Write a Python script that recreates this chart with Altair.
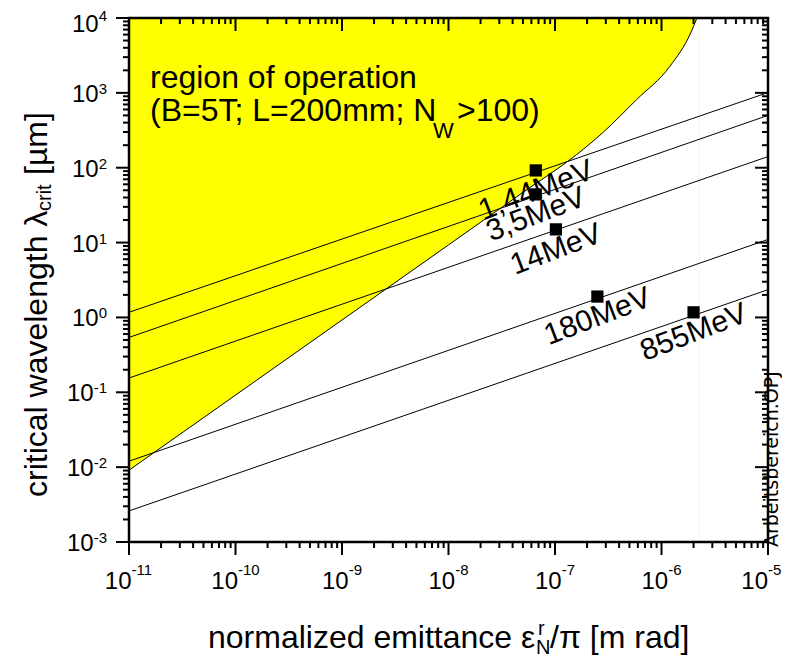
import altair as alt
import pandas as pd

W, H = 639, 524
FONT = "Liberation Sans"

# ---- data ----
energy_names = ["1,44MeV", "3,5MeV", "14MeV", "180MeV", "855MeV"]
line_x = [1e-11, 1e-5]
line_y_left = [1.17, 0.54, 0.155, 0.012, 0.0026]
line_y_right = [1010, 500, 141, 11, 2.35]

point_x = [6.6e-8, 6.6e-8, 1.02e-7, 2.5e-7, 2.0e-6]
point_y = [92, 44, 15, 1.9, 1.17]

bound_x = [1e-11, 1e-8, 5.0e-8, 1.6e-7, 2.84e-7, 5.85e-7, 1.2e-6, 1.88e-6, 2.15e-6]
bound_y = [0.0091, 9.3, 46.8, 150, 298, 815, 2265, 6320, 1e4]
edge_x = [2.25e-6]

x_exps = [-11, -10, -9, -8, -7, -6, -5]
y_exps = [-3, -2, -1, 0, 1, 2, 3, 4]

# ---- scales ----
xs = alt.Scale(type="log", domain=[1e-11, 1e-5], nice=False)
ys = alt.Scale(type="log", domain=[1e-3, 1e4], nice=False)


def X(f):
    return alt.X(f, type="quantitative", scale=xs, axis=None)


def Y(f):
    return alt.Y(f, type="quantitative", scale=ys, axis=None)


layers = []

# region of operation (yellow)
df_b = pd.DataFrame({"x": bound_x, "y": bound_y, "top": [1e4] * len(bound_x)})
layers.append(
    alt.Chart(df_b).mark_area(color="#ffff00", opacity=1, interpolate="monotone", orient="vertical", clip=True)
    .encode(x=X("x"), y=Y("y"), y2=alt.Y2("top"))
)
layers.append(
    alt.Chart(df_b).mark_line(color="black", strokeWidth=1, interpolate="monotone", clip=True)
    .encode(x=X("x"), y=Y("y"))
)
# faint vertical edge line
layers.append(
    alt.Chart(pd.DataFrame({"v": edge_x})).mark_rule(color="#f6f6e2", strokeWidth=1)
    .encode(x=X("v"), y=alt.value(0), y2=alt.value(H))
)

# energy lines
rows = []
for n, l, r in zip(energy_names, line_y_left, line_y_right):
    rows.append({"name": n, "x": line_x[0], "y": l})
    rows.append({"name": n, "x": line_x[1], "y": r})
df_l = pd.DataFrame(rows)
layers.append(
    alt.Chart(df_l).mark_line(color="black", strokeWidth=1, clip=True)
    .encode(x=X("x"), y=Y("y"), detail="name:N")
)

# operating points + labels
df_p = pd.DataFrame({"name": energy_names, "x": point_x, "y": point_y})
layers.append(
    alt.Chart(df_p).mark_square(size=150, color="black", opacity=1)
    .encode(x=X("x"), y=Y("y"))
)
layers.append(
    alt.Chart(df_p).mark_text(angle=339, dx=-7, dy=19, fontSize=30, align="center", baseline="middle", color="black")
    .encode(x=X("x"), y=Y("y"), text="name:N")
)

# ---- ticks ----
x_major = [10.0 ** e for e in x_exps]
x_minor = [m * 10.0 ** e for e in x_exps[:-1] for m in range(2, 10)]
y_major = [10.0 ** e for e in y_exps]
y_minor = [m * 10.0 ** e for e in y_exps[:-1] for m in range(2, 10)]


def rules_x(vals, y1, y2):
    return alt.Chart(pd.DataFrame({"v": vals})).mark_rule(color="black", strokeWidth=2).encode(
        x=X("v"), y=alt.value(y1), y2=alt.value(y2))


def rules_y(vals, x1, x2):
    return alt.Chart(pd.DataFrame({"v": vals})).mark_rule(color="black", strokeWidth=2).encode(
        y=Y("v"), x=alt.value(x1), x2=alt.value(x2))


layers += [
    rules_x(x_major, H, H + 13), rules_x(x_minor, H, H + 6),
    rules_x(x_major, 0, 13), rules_x(x_minor, 0, 6),
    rules_y(y_major, -13, 0), rules_y(y_minor, -6, 0),
    rules_y(y_major, W - 13, W), rules_y(y_minor, W - 6, W),
]


# ---- tick labels ----
def xlabels(exps, shift):
    df = pd.DataFrame({"v": [10.0 ** e for e in exps], "s": [str(e) for e in exps]})
    base = alt.Chart(df)
    ten = base.mark_text(text="10", align="right", baseline="alphabetic", fontSize=24, dx=shift, color="black").encode(
        x=X("v"), y=alt.value(H + 47))
    sup = base.mark_text(align="left", baseline="alphabetic", fontSize=15, dx=shift, color="black").encode(
        x=X("v"), y=alt.value(H + 33), text="s:N")
    return [ten, sup]


def ylabels(exps, supw, ten_dy=9, sup_dy=1):
    df = pd.DataFrame({"v": [10.0 ** e for e in exps], "s": [str(e) for e in exps]})
    base = alt.Chart(df)
    ten = base.mark_text(text="10", align="right", baseline="alphabetic", fontSize=24, dx=-22 - supw, dy=ten_dy,
                         color="black").encode(y=Y("v"), x=alt.value(0))
    sup = base.mark_text(align="right", baseline="alphabetic", fontSize=15, dx=-22, dy=sup_dy, color="black").encode(
        y=Y("v"), x=alt.value(0), text="s:N")
    return [ten, sup]


layers += xlabels([e for e in x_exps if e <= -10], 2.5)
layers += xlabels([e for e in x_exps if -10 < e < -5], 6.7)
layers += xlabels([e for e in x_exps if e == -5], 0)
layers += ylabels([e for e in y_exps if 0 <= e < 4], 8.3)
layers += ylabels([e for e in y_exps if e == 4], 8.3, ten_dy=14, sup_dy=3)
layers += ylabels([e for e in y_exps if e < 0], 13.3)


# ---- annotations / titles ----
def ann(txt, x, y, size, angle=0, align="left", font=FONT):
    return alt.Chart(pd.DataFrame({"t": [txt]})).mark_text(
        align=align, baseline="alphabetic", fontSize=size, angle=angle, color="black", font=font
    ).encode(x=alt.value(x), y=alt.value(y), text="t:N")


# y title
layers += [
    ann("critical wavelength λ", -82, 479, 32, angle=270),
    ann("crit", -78, 193, 20, angle=270),
    ann("[µm]", -82, 157, 32, angle=270),
]
# x title
layers += [
    ann("normalized emittance ε", 79, 630, 32),
    ann("N", 407, 636, 20),
    ann("r", 409, 617, 20),
    ann("/π [m rad]", 421, 630, 32),
]
# region text
layers += [
    ann("region of operation", 21, 70, 32),
    ann("(B=5T; L=200mm; N", 21, 103, 32),
    ann("W", 304, 120, 22),
    ann(">100)", 328, 103, 32),
]
# file name
layers.append(ann("Arbeitsbereich.OPJ", 649, 529, 19, angle=270, font="DejaVu Sans"))

# frame on top
layers.append(
    alt.Chart(pd.DataFrame({"a": [0]})).mark_rect(filled=False, stroke="black", strokeWidth=2.5).encode(
        x=alt.value(0), x2=alt.value(W), y=alt.value(0), y2=alt.value(H))
)

chart = (
    alt.layer(*layers)
    .properties(
        width=W,
        height=H,
        autosize=alt.AutoSizeParams(type="none"),
        padding={"left": 121, "top": 10, "right": 14, "bottom": 117},
    )
    .configure_view(stroke=None)
    .configure_text(font=FONT)
)

chart.save("out.html", embed_options={"renderer": "svg", "actions": False})
